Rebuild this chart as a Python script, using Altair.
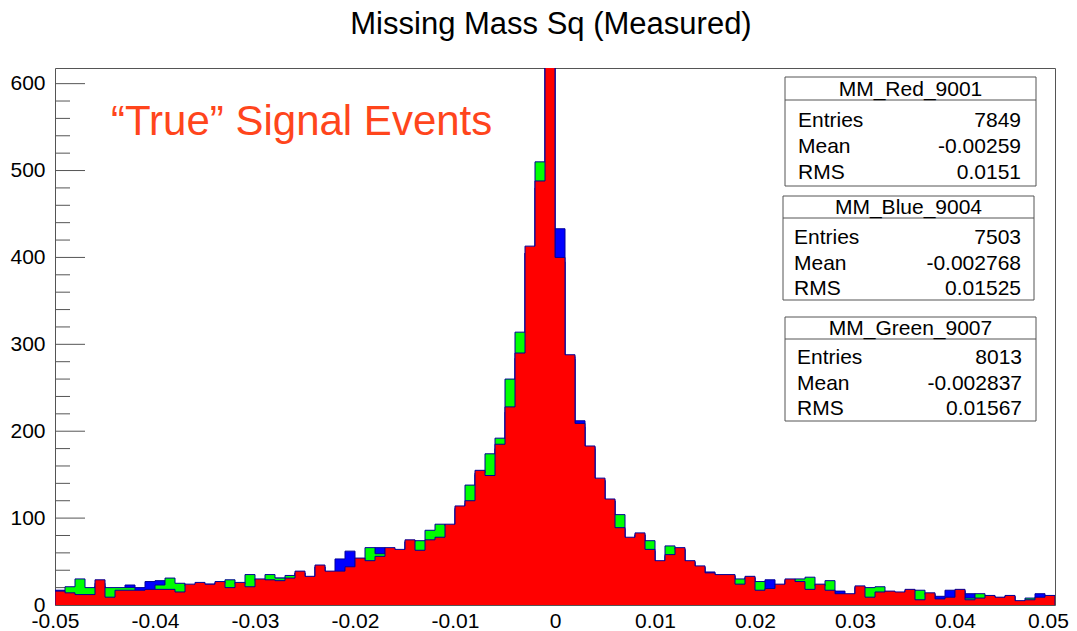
import altair as alt
import pandas as pd

# ---------------- data ----------------
bin_lo = -0.05
bin_width = 0.001
n_bins = 100

red_counts = [16, 14, 12, 12, 29, 9, 17, 17, 17, 18,
              18, 18, 15, 24, 26, 24, 27, 20, 26, 21,
              30, 29, 28, 31, 39, 33, 46, 39, 39, 44,
              54, 51, 56, 66, 64, 75, 63, 75, 78, 93,
              114, 120, 155, 149, 185, 228, 290, 413, 488, 720,
              400, 288, 209, 183, 146, 122, 89, 78, 83, 64,
              51, 58, 66, 51, 45, 37, 35, 35, 24, 33,
              17, 19, 24, 30, 27, 18, 24, 17, 13, 13,
              22, 9, 15, 16, 15, 18, 6, 14, 7, 9,
              18, 6, 8, 11, 9, 11, 5, 6, 9, 11]

blue_counts = [17, 13, 11, 11, 25, 9, 16, 23, 20, 27,
               28, 17, 14, 22, 24, 24, 26, 19, 25, 20,
               29, 27, 31, 30, 37, 32, 44, 37, 53, 62,
               52, 50, 66, 64, 62, 73, 61, 73, 76, 90,
               110, 117, 150, 145, 180, 222, 284, 405, 480, 690,
               433, 286, 212, 182, 144, 120, 87, 76, 81, 62,
               50, 56, 64, 50, 44, 38, 34, 34, 23, 32,
               16, 29, 23, 29, 26, 17, 23, 16, 16, 12,
               21, 8, 14, 15, 14, 17, 5, 13, 10, 17,
               17, 13, 7, 10, 8, 10, 4, 5, 13, 10]

green_counts = [15, 21, 30, 20, 22, 20, 20, 20, 15, 16,
                23, 31, 25, 22, 24, 23, 25, 29, 24, 35,
                28, 35, 31, 34, 37, 31, 44, 37, 38, 42,
                52, 66, 59, 64, 62, 73, 74, 86, 93, 91,
                112, 138, 152, 174, 192, 260, 314, 405, 510, 700,
                395, 283, 205, 180, 143, 120, 104, 76, 81, 74,
                49, 68, 64, 49, 43, 35, 33, 33, 30, 31,
                27, 17, 22, 28, 30, 32, 22, 28, 12, 12,
                20, 20, 21, 14, 13, 16, 17, 12, 6, 8,
                16, 8, 13, 10, 8, 10, 4, 8, 8, 10]

x_tick_values = [-0.05, -0.04, -0.03, -0.02, -0.01, 0.0, 0.01, 0.02, 0.03, 0.04, 0.05]
y_tick_values = [0, 100, 200, 300, 400, 500, 600]
y_minor_values = [v for v in range(0, 601, 20) if v % 100 != 0]

stats_names = ["MM_Red_9001", "MM_Blue_9004", "MM_Green_9007"]
stats_entries = ["7849", "7503", "8013"]
stats_means = ["-0.00259", "-0.002768", "-0.002837"]
stats_rms = ["0.0151", "0.01525", "0.01567"]
stats_labels = ["Entries", "Mean", "RMS"]

title_text = "Missing Mass Sq (Measured)"
note_text = "\u201cTrue\u201d Signal Events"

# ---------------- style ----------------
FONT = "Liberation Sans"
PW, PH = 1000, 537
YMAX = 618
xscale = alt.Scale(domain=[-0.05, 0.05], nice=False, zero=False)
yscale = alt.Scale(domain=[0, YMAX], nice=False)
outline = "#000099"


def area_frame(counts):
    xs = [round(bin_lo + i * bin_width, 6) for i in range(n_bins)] + [0.05]
    ys = list(counts) + [counts[-1]]
    return pd.DataFrame({"x": xs, "y": ys})


def line_frame(counts):
    xs = [-0.05] + [round(bin_lo + i * bin_width, 6) for i in range(n_bins)] + [0.05, 0.05]
    ys = [0] + list(counts) + [counts[-1], 0]
    return pd.DataFrame({"x": xs, "y": ys, "i": list(range(len(xs)))})


def hist_layers(counts, fill, with_axes=False):
    if with_axes:
        xax = alt.Axis(values=x_tick_values, title=None, labelExpr=
                       "abs(datum.value) < 1e-9 ? '0' : (datum.value < 0 ? '-' : '') + format(abs(datum.value), '.2f')",
                       labelPadding=5, labelFlush=False, labelOverlap=False,
                       labelOffset={"condition": {"test": "datum.value > 0.045", "value": -7}, "value": 0},
                       grid=False, domain=False, ticks=False,
                       labelFont=FONT, labelFontSize=21, labelColor="black")
        yax = alt.Axis(values=y_tick_values, title=None, labelPadding=10, format="d",
                       labelFlush=False, labelOverlap=False,
                       grid=False, domain=False, ticks=False,
                       labelFont=FONT, labelFontSize=21, labelColor="black")
    else:
        xax = None
        yax = None
    a = alt.Chart(area_frame(counts)).mark_area(
        interpolate="step-after", color=fill, clip=True, opacity=1
    ).encode(
        x=alt.X("x:Q", scale=xscale, axis=xax),
        y=alt.Y("y:Q", scale=yscale, axis=yax, stack=None),
    )
    l = alt.Chart(line_frame(counts)).mark_line(
        interpolate="step-after", color=outline, strokeWidth=1, clip=True
    ).encode(
        x=alt.X("x:Q", scale=xscale, axis=None),
        y=alt.Y("y:Q", scale=yscale, axis=None),
        order=alt.Order("i:Q"),
    )
    return [a, l]


# inward y ticks (major 30 px, minor 15 px)
tick_df = pd.DataFrame({"v": y_tick_values + y_minor_values,
                        "len": [30] * len(y_tick_values) + [15] * len(y_minor_values)})
yticks = alt.Chart(tick_df).mark_rule(color="#555555", strokeWidth=1).encode(
    y=alt.Y("v:Q", scale=yscale, axis=None),
    x=alt.X("zero:Q", scale=None, axis=None),
    x2=alt.X2("len:Q"),
).transform_calculate(zero="0")

layers = [yticks]
layers += hist_layers(blue_counts, "#0000ff", with_axes=True)
layers += hist_layers(green_counts, "#00ff00")
layers += hist_layers(red_counts, "#ff0000")

# title and annotation text
title_layer = alt.Chart(pd.DataFrame({"t": [title_text]})).mark_text(
    font=FONT, fontSize=31, color="black", align="center", baseline="alphabetic"
).encode(text="t:N", x=alt.value(496), y=alt.value(-34))

note_layer = alt.Chart(pd.DataFrame({"t": [note_text]})).mark_text(
    font=FONT, fontSize=42, color="#ff451c", align="left", baseline="alphabetic"
).encode(text="t:N", x=alt.value(56), y=alt.value(67))

# stats boxes (pixel geometry in plot coordinates)
box_geom = [
    dict(x1=730, x2=981, top=9, sep=32, bottom=118, left=743, right=966, hdr=28, rows=[59, 85, 111]),
    dict(x1=728, x2=979, top=128, sep=150, bottom=232, left=739, right=966, hdr=146, rows=[176, 202, 227]),
    dict(x1=730, x2=981, top=249, sep=271, bottom=353, left=742, right=967, hdr=267, rows=[296, 322, 347]),
]
rect_rows, sep_rows, hdr_rows, left_rows, right_rows = [], [], [], [], []
for k, g in enumerate(box_geom):
    rect_rows.append(dict(x1=g["x1"], x2=g["x2"], y1=g["top"], y2=g["bottom"]))
    sep_rows.append(dict(x1=g["x1"], x2=g["x2"], y1=g["sep"]))
    hdr_rows.append(dict(x=(g["x1"] + g["x2"]) / 2, y=g["hdr"], t=stats_names[k]))
    vals = [stats_entries[k], stats_means[k], stats_rms[k]]
    for r in range(3):
        left_rows.append(dict(x=g["left"], y=g["rows"][r], t=stats_labels[r]))
        right_rows.append(dict(x=g["right"], y=g["rows"][r], t=vals[r]))

box_rect = alt.Chart(pd.DataFrame(rect_rows)).mark_rect(
    fill="white", stroke="#555555", strokeWidth=1
).encode(
    x=alt.X("x1:Q", scale=None, axis=None), x2="x2:Q",
    y=alt.Y("y1:Q", scale=None, axis=None), y2="y2:Q",
)
box_sep = alt.Chart(pd.DataFrame(sep_rows)).mark_rule(color="#555555", strokeWidth=1).encode(
    x=alt.X("x1:Q", scale=None, axis=None), x2="x2:Q",
    y=alt.Y("y1:Q", scale=None, axis=None),
)
box_hdr = alt.Chart(pd.DataFrame(hdr_rows)).mark_text(
    font=FONT, fontSize=21, color="black", align="center", baseline="alphabetic"
).encode(x=alt.X("x:Q", scale=None, axis=None), y=alt.Y("y:Q", scale=None, axis=None), text="t:N")
box_left = alt.Chart(pd.DataFrame(left_rows)).mark_text(
    font=FONT, fontSize=21, color="black", align="left", baseline="alphabetic"
).encode(x=alt.X("x:Q", scale=None, axis=None), y=alt.Y("y:Q", scale=None, axis=None), text="t:N")
box_right = alt.Chart(pd.DataFrame(right_rows)).mark_text(
    font=FONT, fontSize=21, color="black", align="right", baseline="alphabetic"
).encode(x=alt.X("x:Q", scale=None, axis=None), y=alt.Y("y:Q", scale=None, axis=None), text="t:N")

layers += [title_layer, note_layer, box_rect, box_sep, box_hdr, box_left, box_right]

chart = alt.layer(*layers).properties(
    width=PW, height=PH,
    autosize=alt.AutoSizeParams(type="none"),
    padding={"left": 47, "top": 60, "right": 14, "bottom": 26},
).resolve_scale(
    x="independent", y="independent"
).configure_view(
    stroke="#555555", strokeWidth=1
).configure_axis(
    labelFont=FONT, labelFontSize=21, labelColor="black",
    grid=False, domain=False, ticks=False,
)

chart.save("out.html", embed_options={"renderer": "svg", "actions": False})
